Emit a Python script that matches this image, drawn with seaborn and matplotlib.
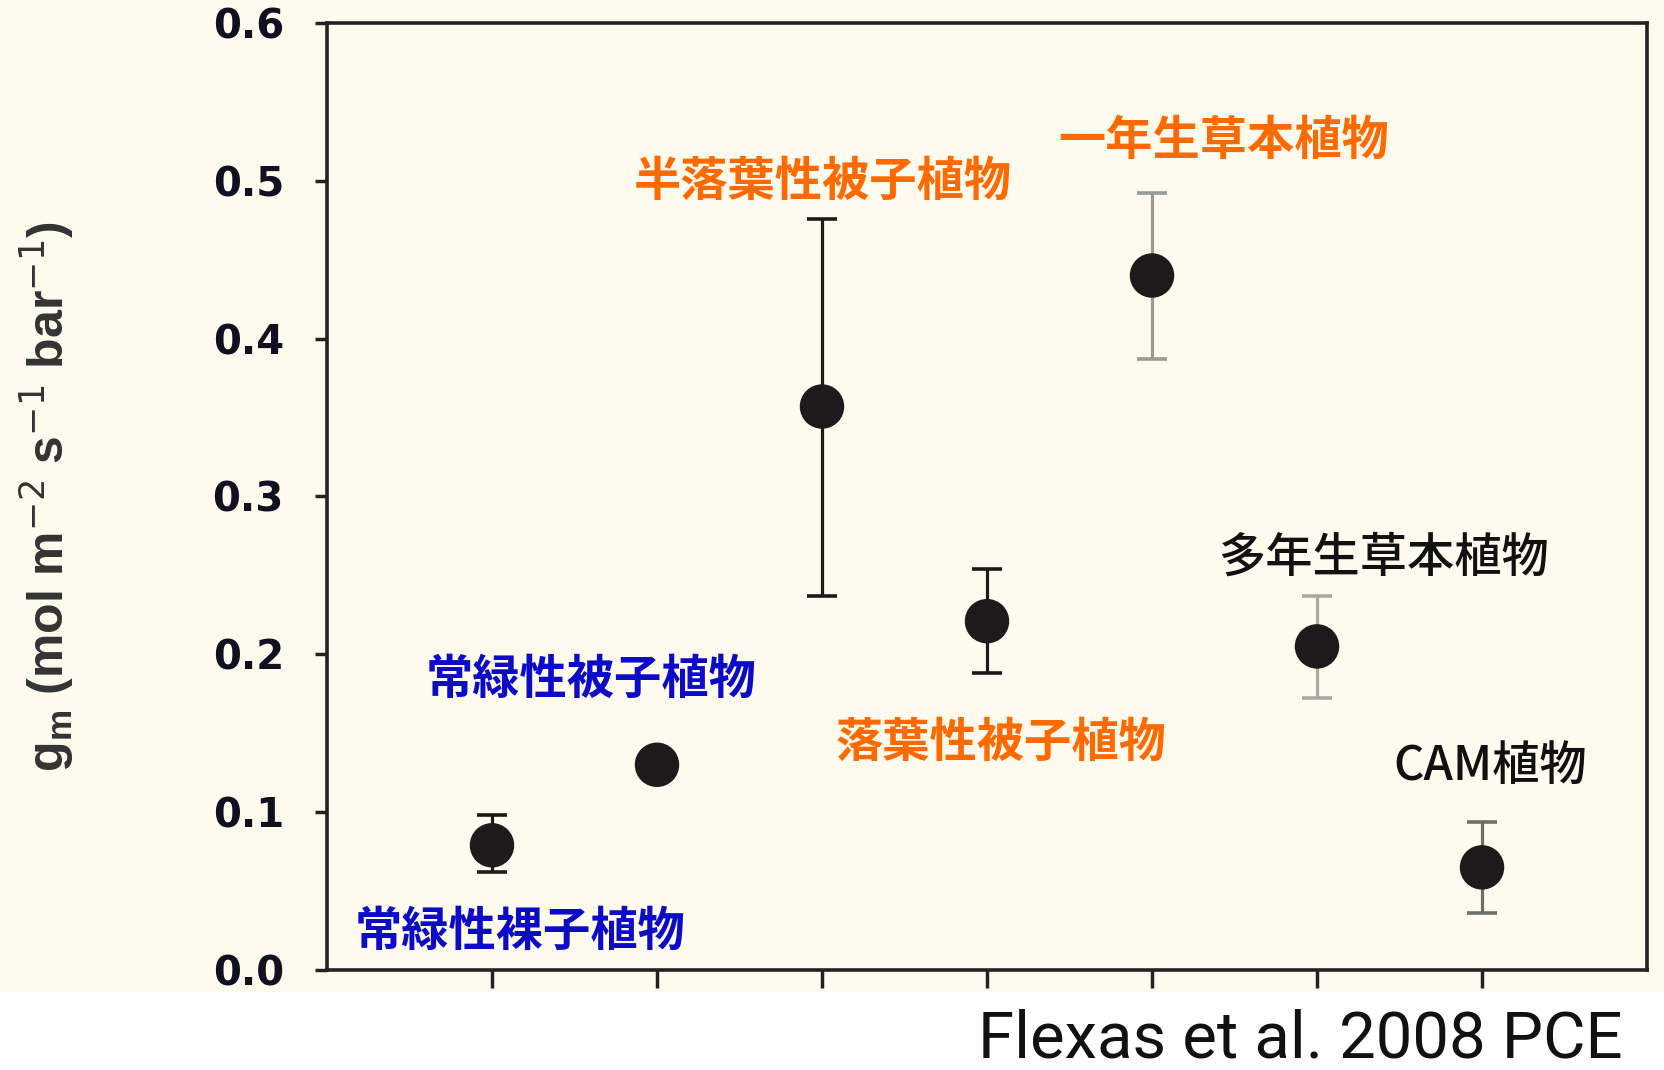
import pandas as pd
import seaborn as sns
import matplotlib.pyplot as plt
from matplotlib.patches import Rectangle

# data (Flexas et al. 2008)
groups = ["常緑性裸子植物", "常緑性被子植物", "半落葉性被子植物", "落葉性被子植物",
          "一年生草本植物", "多年生草本植物", "CAM植物"]
gm_mean = [0.079, 0.130, 0.357, 0.221, 0.440, 0.205, 0.065]
gm_upper = [0.098, 0.130, 0.476, 0.254, 0.492, 0.237, 0.094]
gm_lower = [0.062, 0.130, 0.237, 0.188, 0.387, 0.172, 0.036]
y_ticks = [0.0, 0.1, 0.2, 0.3, 0.4, 0.5, 0.6]
source = "Flexas et al. 2008 PCE"

# label placement (data coords, left edge / vertical centre) and styling
label_pos = [(0.17, 0.024), (0.60, 0.184), (1.86, 0.499), (3.08, 0.144),
             (4.43, 0.525), (5.40, 0.261), (6.46, 0.129)]
label_col = ["#0c0cc8", "#0c0cc8", "#ff6a00", "#ff6a00", "#ff6a00", "#111111", "#111111"]
label_wt = ["bold"] * 5 + ["medium", "medium"]
err_col = ["#1e1a1a", "#1e1a1a", "#1e1a1a", "#1e1a1a", "#9a9a94", "#aaa9a2", "#6e6e6a"]

df = pd.DataFrame({"x": range(1, len(groups) + 1), "gm": gm_mean,
                   "up": gm_upper, "lo": gm_lower, "group": groups})

sns.set_theme(style="ticks")
plt.rcParams["font.family"] = ["Noto Sans CJK JP", "DejaVu Sans"]
cream = "#fffaee"

fig = plt.figure(figsize=(16.64, 10.70), dpi=100, facecolor=cream)
fig.patches.append(Rectangle((0, 0), 1, 0.073, transform=fig.transFigure,
                             facecolor="white", edgecolor="none", zorder=0))
ax = fig.add_axes([0.1965, 0.0935, 0.7933, 0.885])
ax.set_facecolor(cream)

for i, row in df.iterrows():
    ax.errorbar(row["x"], row["gm"],
                yerr=[[row["gm"] - row["lo"]], [row["up"] - row["gm"]]],
                fmt="none", ecolor=err_col[i], elinewidth=2.3,
                capsize=10.5, capthick=2.6, zorder=2)
sns.scatterplot(data=df, x="x", y="gm", ax=ax, s=32 ** 2, color="#1c1a1a",
                edgecolor="none", zorder=3, legend=False)

for i, g in enumerate(groups):
    ax.text(label_pos[i][0], label_pos[i][1], g, color=label_col[i],
            fontsize=34, fontweight=label_wt[i], ha="left", va="center",
            family=["Noto Sans CJK JP", "DejaVu Sans"])

ax.set_xlim(0, 8)
ax.set_ylim(0, 0.6)
ax.set_xticks(df["x"])
ax.set_xticklabels([])
ax.set_yticks(y_ticks)
ax.set_yticklabels([f"{t:.1f}" for t in y_ticks], fontsize=29,
                   fontweight="bold", family="DejaVu Sans", color="#101020")
ax.tick_params(axis="y", length=9, width=2.5, color="#222222", pad=22)
ax.tick_params(axis="x", length=13, width=2.5, color="#222222")
for s in ax.spines.values():
    s.set_linewidth(2.6)
    s.set_color("#222222")
ax.set_xlabel("")
ax.set_ylabel(r"$\mathregular{g_m}$ (mol m$^{-2}$ s$^{-1}$ bar$^{-1}$)",
              fontsize=36, fontweight="bold", family="Liberation Sans",
              color="#333333", labelpad=98)

fig.text(0.975, 0.012, source, ha="right", va="baseline", fontsize=47,
         family=["Roboto", "DejaVu Sans"], fontweight="normal", color="#111111")

plt.savefig("out.png", dpi=100, facecolor=cream)
